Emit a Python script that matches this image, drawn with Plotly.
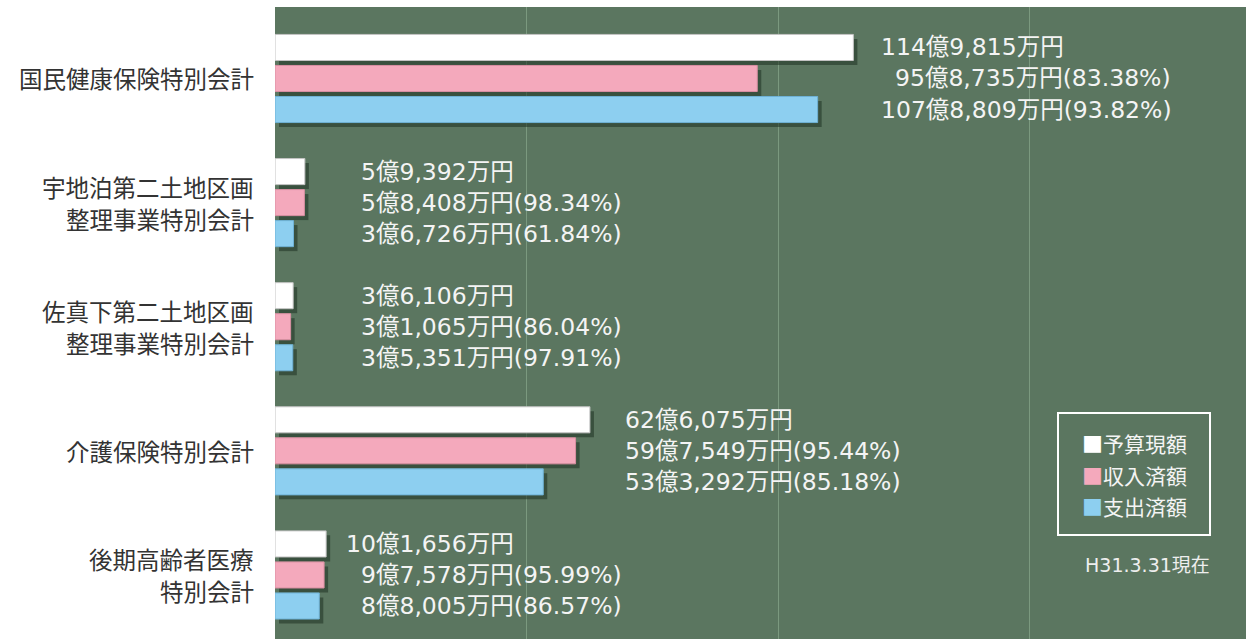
import plotly.graph_objects as go

# ---------------- data ----------------
categories = [
    "国民健康保険特別会計",
    "宇地泊第二土地区画<br>整理事業特別会計",
    "佐真下第二土地区画<br>整理事業特別会計",
    "介護保険特別会計",
    "後期高齢者医療<br>特別会計",
]
series_names = ["予算現額", "収入済額", "支出済額"]
budget_man = [1149815, 59392, 36106, 626075, 101656]     # 万円
revenue_man = [958735, 58408, 31065, 597549, 97578]      # 万円
expense_man = [1078809, 36726, 35351, 533292, 88005]     # 万円
revenue_pct = ["83.38", "98.34", "86.04", "95.44", "95.99"]
expense_pct = ["93.82", "61.84", "97.91", "85.18", "86.57"]
as_of_text = "H31.3.31現在"

# ---------------- style / layout ----------------
W, H = 1246, 639
M_L, M_T = 275, 7
X_MAX = 193.04            # 億
Y_TOP, Y_BOT = -0.576, 4.516
SH_DX, SH_DY = 0.8, 0.036  # shadow offset (axis units)
LABEL_ANCHOR = [129.1, 19.9, 19.9, 75.3, 19.9]   # x (億) where "億" begins
BAR_OFFSETS = [-0.25, 0.0, 0.25]
LABEL_SIZE = 23.5
DIGIT_W = 0.636 * LABEL_SIZE   # DejaVu Sans tabular digit advance
CAT_LINE_PITCH = 32            # px between lines of a category label
CAT_GAP = 20                   # px between category label and plot edge

colors = ["#ffffff", "#f4a9bc", "#8dcff0"]
outlines = ["#c4c4c4", "#d98fa2", "#6fb2d6"]
BG = "#5b7660"
GRID = "#7b997f"
SHADOW = "rgba(30,50,35,0.55)"
LABEL_FONT = dict(family="DejaVu Sans, Noto Sans CJK JP", size=LABEL_SIZE, color="#f4f4f4")
CAT_FONT = dict(family="Noto Sans CJK JP", size=23.5, color="#333333")

series_vals = [budget_man, revenue_man, expense_man]
series_pct = [None, revenue_pct, expense_pct]

fig = go.Figure()

# shadows (main axes, shifted ranges)
for s in range(3):
    fig.add_trace(go.Bar(
        x=[v / 10000 for v in series_vals[s]], y=categories, orientation="h",
        xaxis="x", yaxis="y", marker=dict(color=SHADOW, line=dict(width=0)),
        showlegend=False, hoverinfo="skip",
    ))

# real bars (overlay axes)
for s in range(3):
    fig.add_trace(go.Bar(
        x=[v / 10000 for v in series_vals[s]], y=categories, orientation="h",
        name=series_names[s], xaxis="x2", yaxis="y2",
        marker=dict(color=colors[s], line=dict(color=outlines[s], width=1)),
        showlegend=False,
    ))

annotations = []
# value labels
for i in range(len(categories)):
    for s in range(3):
        v = series_vals[s][i]
        oku, man = v // 10000, v % 10000
        txt = f"{oku}億{man:,}万円"
        if series_pct[s] is not None:
            txt += f"({series_pct[s][i]}%)"
        yv = i + BAR_OFFSETS[s]
        annotations.append(dict(x=LABEL_ANCHOR[i], y=yv, xref="x2", yref="y2",
                                text=txt, xanchor="left", yanchor="middle",
                                xshift=-len(str(oku)) * DIGIT_W,
                                showarrow=False, borderpad=0, font=LABEL_FONT))

# category labels (one text per line, right-aligned at the plot's left edge)
for i, cat in enumerate(categories):
    lines = cat.split("<br>")
    n = len(lines)
    for k, line in enumerate(lines):
        annotations.append(dict(
            x=0, y=i, xref="paper", yref="y2", text=line,
            xanchor="right", yanchor="middle", xshift=-CAT_GAP,
            yshift=((n - 1) / 2 - k) * CAT_LINE_PITCH,
            showarrow=False, borderpad=0, font=CAT_FONT,
        ))

# custom legend
def px_to_paper_x(px):
    return (px - M_L) / (W - M_L)

def py_to_paper_y(py):
    return (H - py) / (H - M_T)

leg_rows = [443, 475, 506]
for s in range(3):
    annotations.append(dict(
        x=px_to_paper_x(1081), y=py_to_paper_y(leg_rows[s]), xref="paper", yref="paper",
        text=f"<span style='color:{colors[s]}'>■</span>{series_names[s]}",
        xanchor="left", yanchor="middle", showarrow=False, borderpad=0,
        font=dict(family="Noto Sans CJK JP", size=21, color="#f4f4f4"),
    ))
annotations.append(dict(
    x=px_to_paper_x(1211), y=py_to_paper_y(565), xref="paper", yref="paper",
    text=as_of_text, xanchor="right", yanchor="middle", showarrow=False, borderpad=0,
    font=dict(family="DejaVu Sans, Noto Sans CJK JP", size=19, color="#eeeeee"),
))

shapes = [dict(type="rect", xref="paper", yref="paper",
               x0=px_to_paper_x(1058), x1=px_to_paper_x(1210),
               y0=py_to_paper_y(535), y1=py_to_paper_y(413),
               line=dict(color="#ffffff", width=2), fillcolor="rgba(0,0,0,0)")]

fig.update_layout(
    width=W, height=H,
    margin=dict(l=M_L, r=0, t=M_T, b=0, pad=0),
    paper_bgcolor="#ffffff", plot_bgcolor=BG,
    barmode="group", bargap=0.25, bargroupgap=0.16,
    showlegend=False,
    xaxis=dict(range=[-SH_DX, X_MAX - SH_DX], showgrid=False, zeroline=False,
               showticklabels=False, showline=False, ticks=""),
    yaxis=dict(type="category", categoryorder="array", categoryarray=categories,
               range=[Y_BOT - SH_DY, Y_TOP - SH_DY], showgrid=False, zeroline=False,
               showticklabels=False, showline=False, ticks=""),
    xaxis2=dict(overlaying="x", range=[0, X_MAX], showgrid=True, gridcolor=GRID,
                gridwidth=1, tick0=0, dtick=50, zeroline=False,
                showticklabels=False, showline=False, ticks=""),
    yaxis2=dict(overlaying="y", side="left", type="category", categoryorder="array",
                categoryarray=categories, range=[Y_BOT, Y_TOP], showgrid=False,
                zeroline=False, showline=False, ticks="", showticklabels=False),
    annotations=annotations, shapes=shapes,
    font=dict(family="Noto Sans CJK JP"),
)

fig.write_html(
    "out.html",
    config={"displayModeBar": False},
    post_script="document.body.style.margin='0';document.body.style.overflow='hidden';",
)
